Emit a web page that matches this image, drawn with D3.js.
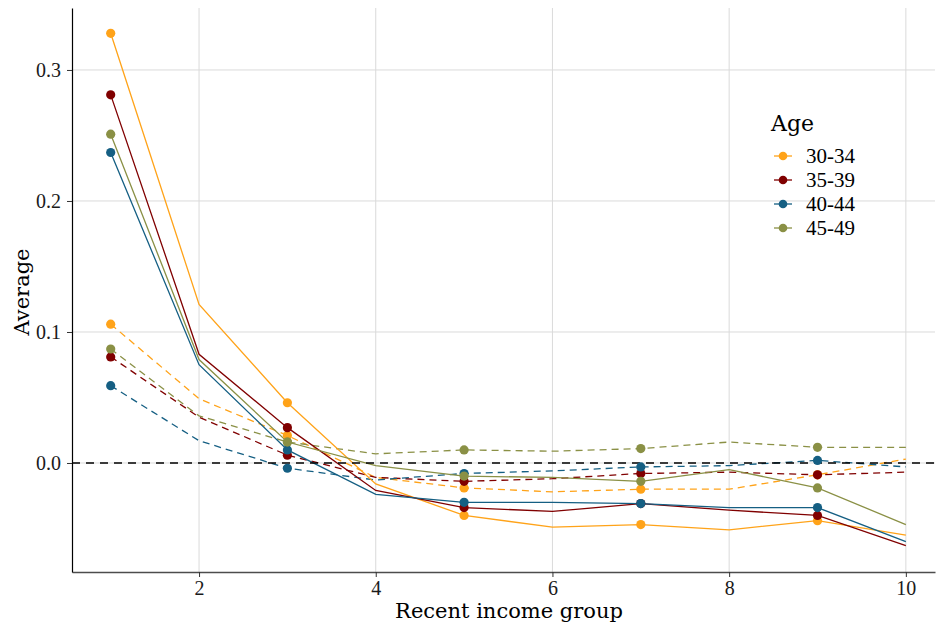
<!DOCTYPE html>
<html>
<head>
<meta charset="utf-8">
<script src="https://cdn.jsdelivr.net/npm/d3@7"></script>
<style>
  html, body { margin: 0; padding: 0; background: #fff; }
  svg { display: block; }
</style>
</head>
<body>
<svg id="chart" width="937" height="630"></svg>
<script>
// ---- data ----
const groups = [1, 2, 3, 4, 5, 6, 7, 8, 9, 10];
const ageLabels = ["30-34", "35-39", "40-44", "45-49"];
const colors = ["#FFA319", "#800000", "#155F83", "#8A9045"];
const markerGroups = [1, 3, 5, 7, 9];

// solid series
const solid3034 = [0.328, 0.121, 0.046, -0.016, -0.040, -0.049, -0.047, -0.051, -0.044, -0.055];
const solid3539 = [0.281, 0.083, 0.027, -0.021, -0.034, -0.037, -0.031, -0.036, -0.040, -0.063];
const solid4044 = [0.237, 0.075, 0.010, -0.024, -0.030, -0.030, -0.031, -0.034, -0.034, -0.060];
const solid4549 = [0.251, 0.079, 0.016, -0.002, -0.010, -0.011, -0.014, -0.005, -0.019, -0.047];

// dashed series
const dashed3034 = [0.106, 0.049, 0.021, -0.011, -0.019, -0.022, -0.020, -0.020, -0.009, 0.003];
const dashed3539 = [0.081, 0.035, 0.006, -0.011, -0.014, -0.012, -0.008, -0.007, -0.009, -0.007];
const dashed4044 = [0.059, 0.017, -0.004, -0.013, -0.008, -0.006, -0.003, -0.002, 0.002, -0.003];
const dashed4549 = [0.087, 0.036, 0.016, 0.007, 0.010, 0.009, 0.011, 0.016, 0.012, 0.012];

const xTicks = [2, 4, 6, 8, 10];
const yTicks = [0.0, 0.1, 0.2, 0.3];

const solidSeries = [solid3034, solid3539, solid4044, solid4549];
const dashedSeries = [dashed3034, dashed3539, dashed4044, dashed4549];

// ---- layout ----
const svg = d3.select("#chart");
const mLeft = 72, mRight = 935, mTop = 8, mBottom = 572;
const x = d3.scaleLinear().domain([0.562, 10.33]).range([mLeft, mRight]);
const y = d3.scaleLinear().domain([-0.0832, 0.3473]).range([mBottom, mTop]);

const numFont = "'Liberation Serif', serif";
const wordFont = "'DejaVu Serif', serif";

// gridlines
const grid = svg.append("g");
grid.selectAll("line.v").data(xTicks).enter().append("line")
  .attr("x1", d => x(d)).attr("x2", d => x(d))
  .attr("y1", mTop).attr("y2", mBottom)
  .attr("stroke", "#dadada").attr("stroke-width", 1);
grid.selectAll("line.h").data(yTicks).enter().append("line")
  .attr("x1", mLeft).attr("x2", mRight)
  .attr("y1", d => y(d)).attr("y2", d => y(d))
  .attr("stroke", "#dadada").attr("stroke-width", 1);

// axes
const xAxis = d3.axisBottom(x).tickValues(xTicks).tickSize(5).tickSizeOuter(0).tickFormat(d3.format("d"));
const yAxis = d3.axisLeft(y).tickValues(yTicks).tickSize(5).tickSizeOuter(0).tickFormat(d3.format(".1f"));

const gx = svg.append("g").attr("transform", `translate(0,${mBottom})`).call(xAxis);
gx.select(".domain").attr("stroke", "#4d4d4d").attr("stroke-width", 1.4);
gx.selectAll(".tick line").attr("stroke", "#333");
gx.selectAll(".tick text").attr("font-family", numFont).attr("font-size", 20)
  .attr("fill", "#1a1a1a").attr("dy", "0.72em").attr("y", 9);

const gy = svg.append("g").attr("transform", `translate(${mLeft},0)`).call(yAxis);
gy.select(".domain").attr("stroke", "#000").attr("stroke-width", 1.2);
gy.selectAll(".tick line").attr("stroke", "#333");
gy.selectAll(".tick text").attr("font-family", numFont).attr("font-size", 20)
  .attr("fill", "#1a1a1a").attr("x", -11);

// axis titles
svg.append("text").attr("x", 509).attr("y", 618)
  .attr("text-anchor", "middle").attr("font-family", wordFont).attr("font-size", 21)
  .attr("fill", "#000").text("Recent income group");
svg.append("text").attr("transform", "translate(29,292) rotate(-90)")
  .attr("text-anchor", "middle").attr("font-family", wordFont).attr("font-size", 21)
  .attr("fill", "#000").text("Average");

// lines
const line = d3.line().x((d, i) => x(groups[i])).y(d => y(d));
const plot = svg.append("g");

dashedSeries.forEach((s, k) => {
  plot.append("path").datum(s).attr("d", line)
    .attr("fill", "none").attr("stroke", colors[k]).attr("stroke-width", 1.3)
    .attr("stroke-dasharray", "7,5");
});
solidSeries.forEach((s, k) => {
  plot.append("path").datum(s).attr("d", line)
    .attr("fill", "none").attr("stroke", colors[k]).attr("stroke-width", 1.3);
});

// zero reference line (drawn above the lines)
plot.append("line")
  .attr("x1", mLeft).attr("x2", mRight)
  .attr("y1", y(0)).attr("y2", y(0))
  .attr("stroke", "#000").attr("stroke-width", 1.5)
  .attr("stroke-dasharray", "8,6");

// markers
[dashedSeries, solidSeries].forEach(set => {
  set.forEach((s, k) => {
    plot.selectAll(null).data(markerGroups).enter().append("circle")
      .attr("cx", g => x(g)).attr("cy", g => y(s[groups.indexOf(g)]))
      .attr("r", 4.6).attr("fill", colors[k]);
  });
});

// legend
const legend = svg.append("g");
legend.append("text").attr("x", 771).attr("y", 131)
  .attr("font-family", wordFont).attr("font-size", 22).attr("fill", "#000").text("Age");
ageLabels.forEach((lab, k) => {
  const cy = 156 + k * 24;
  legend.append("line").attr("x1", 774).attr("x2", 792).attr("y1", cy).attr("y2", cy)
    .attr("stroke", colors[k]).attr("stroke-width", 1.3);
  legend.append("circle").attr("cx", 783).attr("cy", cy).attr("r", 4.3).attr("fill", colors[k]);
  legend.append("text").attr("x", 806).attr("y", cy).attr("dy", "0.35em")
    .attr("font-family", numFont).attr("font-size", 21).attr("fill", "#000").text(lab);
});
</script>
</body>
</html>
